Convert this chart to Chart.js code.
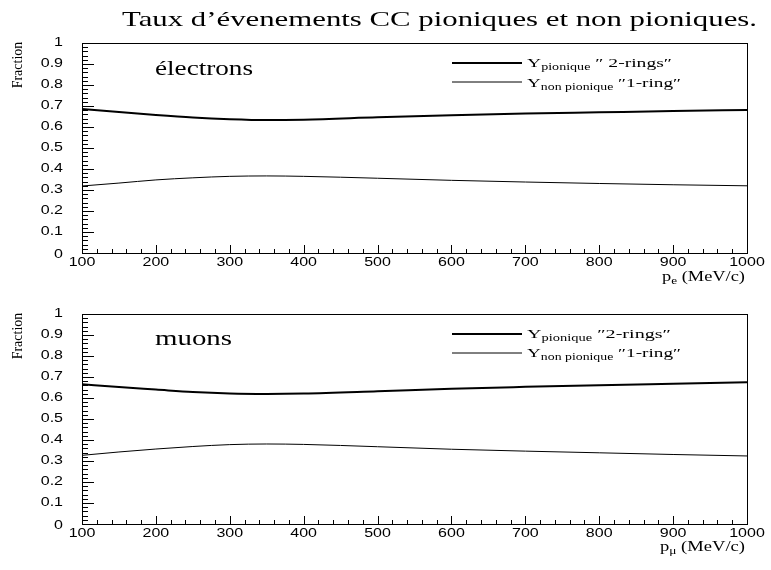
<!DOCTYPE html>
<html>
<head>
<meta charset="utf-8">
<script src="https://cdn.jsdelivr.net/npm/chart.js@4"></script>
<style>
  html, body { margin: 0; padding: 0; background: #fff; }
  #wrap { position: relative; width: 771px; height: 570px; overflow: hidden; background: #fff; }
  canvas { position: absolute; left: 0; }
  .t { position: absolute; white-space: nowrap; line-height: 1; color: #000; font-family: "Liberation Serif", serif; }
  .t sub { font-size: 0.72em; vertical-align: baseline; position: relative; top: 0.3em; line-height: 0; }
</style>
</head>
<body>
<div id="wrap">
  <canvas id="c1" width="771" height="265" style="top:30px"></canvas>
  <canvas id="c2" width="771" height="265" style="top:300px"></canvas>
  <span class="t" id="title">Taux d’évenements CC pioniques et non pioniques.</span>
  <span class="t" id="lab1">électrons</span>
  <span class="t" id="lab2">muons</span>
  <span class="t" id="leg1a">Y<sub>pionique</sub> ″ 2-rings″</span>
  <span class="t" id="leg1b">Y<sub>non pionique</sub> ″1-ring″</span>
  <span class="t" id="leg2a">Y<sub>pionique</sub> ″2-rings″</span>
  <span class="t" id="leg2b">Y<sub>non pionique</sub> ″1-ring″</span>
  <span class="t" id="xt1">p<sub>e</sub> (MeV/c)</span>
  <span class="t" id="xt2">p<sub>μ</sub> (MeV/c)</span>
  <span class="t" id="yt1">Fraction</span>
  <span class="t" id="yt2">Fraction</span>
</div>
<script>
// ---- data ----
const momentum = [100, 150, 200, 250, 300, 350, 400, 500, 600, 700, 800, 900, 1000];
const electronPionique    = [0.686, 0.671, 0.657, 0.645, 0.637, 0.633, 0.635, 0.646, 0.656, 0.664, 0.670, 0.676, 0.681];
const electronNonPionique = [0.319, 0.333, 0.348, 0.358, 0.365, 0.367, 0.365, 0.356, 0.346, 0.338, 0.331, 0.325, 0.320];
const muonPionique        = [0.665, 0.652, 0.640, 0.628, 0.621, 0.619, 0.621, 0.632, 0.644, 0.653, 0.661, 0.668, 0.675];
const muonNonPionique     = [0.327, 0.343, 0.357, 0.369, 0.378, 0.381, 0.379, 0.368, 0.356, 0.347, 0.339, 0.331, 0.324];
const yTickLabels = ['0', '0.1', '0.2', '0.3', '0.4', '0.5', '0.6', '0.7', '0.8', '0.9', '1'];
const xTickLabels = ['100', '200', '300', '400', '500', '600', '700', '800', '900', '1000'];
const seriesNames = ['Y pionique "2-rings"', 'Y non pionique "1-ring"'];

function pts(xs, ys) { return xs.map((x, i) => ({ x: x, y: ys[i] })); }

const framePlugin = {
  id: 'frame',
  afterDraw(chart) {
    const ctx = chart.ctx, a = chart.chartArea;
    const xs = chart.scales.x, ys = chart.scales.y;
    ctx.save();
    ctx.strokeStyle = '#000';
    ctx.lineWidth = 1;
    ctx.strokeRect(Math.round(a.left) + 0.5, Math.round(a.top) + 0.5, Math.round(a.right - a.left), Math.round(a.bottom - a.top));
    // y ticks (inside, on left axis)
    ctx.beginPath();
    for (let k = 0; k <= 50; k++) {
      const v = k / 50;
      const py = Math.round(ys.getPixelForValue(v)) + 0.5;
      const len = (k % 5 === 0) ? 12 : 6;
      ctx.moveTo(a.left, py); ctx.lineTo(a.left + len, py);
    }
    // x ticks (inside, on bottom axis)
    for (let v = 100; v <= 1000; v += 20) {
      const px = Math.round(xs.getPixelForValue(v)) + 0.5;
      const len = (v % 100 === 0) ? 8 : 4;
      ctx.moveTo(px, a.bottom); ctx.lineTo(px, a.bottom - len);
    }
    ctx.stroke();
    // tick labels
    ctx.fillStyle = '#000';
    ctx.font = '12.5px "Liberation Sans", sans-serif';
    ctx.textBaseline = 'middle';
    const sx = 1.28;
    yTickLabels.forEach((t, i) => {
      const v = i / 10;
      ctx.save();
      ctx.translate(a.left - 19, ys.getPixelForValue(v) + (i === 0 ? 2 : 0));
      ctx.scale(sx, 1);
      ctx.textAlign = 'right';
      ctx.fillText(t, 0, 0);
      ctx.restore();
    });
    xTickLabels.forEach((t, i) => {
      const v = 100 + i * 100;
      ctx.save();
      ctx.translate(xs.getPixelForValue(v), a.bottom + 10);
      ctx.scale(sx, 1);
      ctx.textAlign = 'center';
      ctx.fillText(t, 0, 0);
      ctx.restore();
    });
    // legend lines
    const ly = [a.top + 20, a.top + 39];
    const lw = [2, 1];
    chart.data.datasets.forEach((d, i) => {
      ctx.beginPath();
      ctx.lineWidth = lw[i];
      ctx.moveTo(452, ly[i]); ctx.lineTo(522, ly[i]);
      ctx.stroke();
    });
    ctx.restore();
  }
};

function makeChart(id, pion, non, topPad, bottomPad) {
  return new Chart(document.getElementById(id), {
    type: 'line',
    data: {
      datasets: [
        { label: seriesNames[0], data: pts(momentum, pion), borderColor: '#000', borderWidth: 2, pointRadius: 0, cubicInterpolationMode: 'monotone', fill: false },
        { label: seriesNames[1], data: pts(momentum, non), borderColor: '#000', borderWidth: 1, pointRadius: 0, cubicInterpolationMode: 'monotone', fill: false }
      ]
    },
    options: {
      responsive: false,
      animation: false,
      layout: { padding: { left: 82, right: 24, top: topPad, bottom: bottomPad } },
      plugins: { legend: { display: false }, tooltip: { enabled: false }, title: { display: false } },
      scales: {
        x: {
          type: 'linear', min: 100, max: 1000,
          ticks: { display: false, stepSize: 100 },
          grid: { display: false, drawTicks: false },
          border: { display: false },
          afterFit(s) { s.height = 0; }
        },
        y: {
          type: 'linear', min: 0, max: 1,
          ticks: { display: false, stepSize: 0.1 },
          grid: { display: false, drawTicks: false },
          border: { display: false },
          afterFit(s) { s.width = 0; }
        }
      }
    },
    plugins: [framePlugin]
  });
}

makeChart('c1', electronPionique, electronNonPionique, 13, 42);
makeChart('c2', muonPionique, muonNonPionique, 14, 41);

// ---- text placement ----
function fit(id, left, right, baseline, size) {
  const el = document.getElementById(id);
  el.style.fontSize = size + 'px';
  el.style.left = left + 'px';
  el.style.top = (baseline - 0.8375 * size) + 'px';
  el.style.transformOrigin = '0 0';
  const w = el.getBoundingClientRect().width;
  el.style.transform = 'scaleX(' + ((right - left) / w) + ')';
}
fit('title', 122, 757, 27, 21);
fit('lab1', 155, 253, 75, 22);
fit('lab2', 155, 232, 345, 22);
fit('leg1a', 527, 672, 67, 13);
fit('leg1b', 527, 681, 87, 13);
fit('leg2a', 527, 671, 338, 13);
fit('leg2b', 527, 681, 357, 13);
fit('xt1', 662, 745, 282, 14);
fit('xt2', 660, 745, 552, 14);

function vert(id, cx, cy, size) {
  const el = document.getElementById(id);
  el.style.fontSize = size + 'px';
  const r = el.getBoundingClientRect();
  el.style.left = (cx - r.width / 2) + 'px';
  el.style.top = (cy - r.height / 2) + 'px';
  el.style.transform = 'rotate(-90deg)';
}
vert('yt1', 18, 65, 14);
vert('yt2', 18, 336, 14);
</script>
</body>
</html>
